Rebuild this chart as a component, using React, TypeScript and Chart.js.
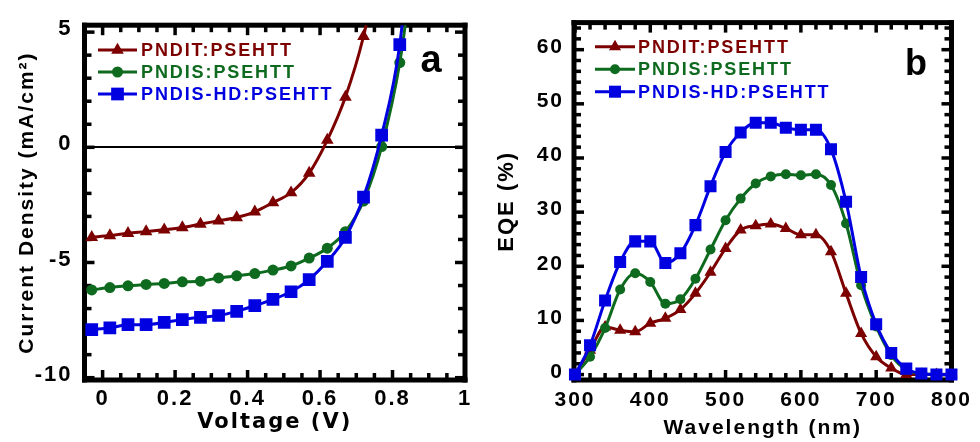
import React, { useEffect, useRef } from 'react';
import { Chart, registerables } from 'chart.js';

Chart.register(...registerables);

// ---------- shared series info ----------
const SERIES_NAMES = ['PNDIT:PSEHTT', 'PNDIS:PSEHTT', 'PNDIS-HD:PSEHTT'];
const SERIES_COLORS = ['#7d0000', '#0e6a1e', '#0000e0'];
const SERIES_MARKERS = ['triangle', 'circle', 'rect'];

// ---------- panel a : J-V ----------
const voltage = [-0.03, 0.02, 0.07, 0.12, 0.17, 0.22, 0.27, 0.32, 0.37, 0.42, 0.47, 0.52, 0.57, 0.62, 0.67, 0.72, 0.77, 0.82, 0.87];
const jPNDIT = [-3.91, -3.83, -3.73, -3.66, -3.58, -3.48, -3.33, -3.19, -3.05, -2.8, -2.4, -1.97, -1.12, 0.31, 2.18, 4.82, 8.6];
const jPNDIS = [-6.19, -6.09, -6.01, -5.95, -5.91, -5.84, -5.81, -5.67, -5.58, -5.48, -5.33, -5.15, -4.81, -4.38, -3.66, -2.33, 0.03, 3.68, 9.5];
const jPNDISHD = [-7.91, -7.84, -7.7, -7.7, -7.6, -7.48, -7.38, -7.3, -7.12, -6.87, -6.6, -6.27, -5.74, -4.95, -3.91, -2.16, 0.53, 4.46, 12.5];
const voltageTicks = [0, 0.2, 0.4, 0.6, 0.8, 1];
const voltageTickLabels = ['0', '0.2', '0.4', '0.6', '0.8', '1'];
const currentTicks = [-10, -5, 0, 5];
const currentTickLabels = ['-10', '-5', '0', '5'];

// ---------- panel b : EQE ----------
const wavelength = [300, 320, 340, 360, 380, 400, 420, 440, 460, 480, 500, 520, 540, 560, 580, 600, 620, 640, 660, 680, 700, 720, 740, 760, 780, 800];
const eqePNDIT = [0, 4.5, 8.8, 8.2, 7.9, 9.5, 10.4, 12.0, 15.0, 18.9, 23.3, 26.7, 27.5, 27.8, 27.0, 25.8, 25.8, 22.7, 15.0, 7.6, 3.3, 1.2, 0, 0, 0, 0];
const eqePNDIS = [0, 3.3, 8.6, 15.7, 18.7, 17.1, 13.1, 13.9, 17.7, 23.1, 28.5, 32.5, 35.3, 36.6, 37.0, 36.8, 37.0, 35.0, 27.9, 16.5, 8.9, 3.6, 0.9, 0.2, 0, 0];
const eqePNDISHD = [0, 5.4, 13.7, 20.8, 24.6, 24.6, 20.6, 22.4, 27.6, 34.8, 41.1, 44.7, 46.5, 46.5, 45.6, 45.2, 45.2, 41.6, 31.9, 18.0, 9.3, 4.0, 1.1, 0.2, 0, 0];
const wavelengthTicks = [300, 400, 500, 600, 700, 800];
const wavelengthTickLabels = ['300', '400', '500', '600', '700', '800'];
const eqeTicks = [0, 10, 20, 30, 40, 50, 60];
const eqeTickLabels = ['0', '10', '20', '30', '40', '50', '60'];

// ---------- plugins ----------
function makeSpacingPlugin(value: string) {
  const set = (chart: any) => { (chart.ctx as any).letterSpacing = value; };
  return {
    id: 'spacing',
    beforeUpdate: set,
    beforeLayout: set,
    beforeDraw: set,
  };
}

type FrameCfg = {
  xK0: number; xK1: number; xStep: number; xMajorEvery: number;
  yK0: number; yK1: number; yStep: number; yMajorEvery: number;
};

function drawFrame(chart: any, c: FrameCfg) {
  const ctx = chart.ctx as CanvasRenderingContext2D;
  const area = chart.chartArea;
  const left = area.left, right = area.right, top = area.top, bottom = area.bottom;
  const xs = chart.scales['x'];
  const ys = chart.scales['y'];
  ctx.save();
  ctx.fillStyle = '#000000';
  const tw = 3.5;
  for (let k = c.xK0; k <= c.xK1; k++) {
    const px = xs.getPixelForValue(k * c.xStep);
    const len = k % c.xMajorEvery === 0 ? 10 : 7;
    ctx.fillRect(px - tw / 2, bottom - len, tw, len);
    ctx.fillRect(px - tw / 2, top, tw, len);
  }
  for (let k = c.yK0; k <= c.yK1; k++) {
    const py = ys.getPixelForValue(k * c.yStep);
    const len = k % c.yMajorEvery === 0 ? 10 : 7;
    ctx.fillRect(left, py - tw / 2, len, tw);
    ctx.fillRect(right - len, py - tw / 2, len, tw);
  }
  const w = 5;
  ctx.fillRect(left - w / 2, top - w / 2, right - left + w, w);
  ctx.fillRect(left - w / 2, bottom - w / 2, right - left + w, w);
  ctx.fillRect(left - w / 2, top - w / 2, w, bottom - top + w);
  ctx.fillRect(right - w / 2, top - w / 2, w, bottom - top + w);
  ctx.restore();
}

function makeFramePlugin(c: FrameCfg) {
  return {
    id: 'boxFrame',
    beforeDatasetsDraw(chart: any) {
      drawFrame(chart, c);
    },
  };
}

function drawMarker(ctx: CanvasRenderingContext2D, style: string, x: number, y: number, r: number) {
  ctx.beginPath();
  if (style === 'triangle') {
    const h = r * Math.sin(Math.PI / 3);
    ctx.moveTo(x, y - r);
    ctx.lineTo(x + h, y + r / 2);
    ctx.lineTo(x - h, y + r / 2);
    ctx.closePath();
  } else if (style === 'circle') {
    ctx.arc(x, y, r, 0, Math.PI * 2);
  } else {
    const s = r * Math.SQRT1_2;
    ctx.rect(x - s, y - s, 2 * s, 2 * s);
  }
  ctx.fill();
}

type LegendCfg = { x0: number; x1: number; xText: number; y0: number; dy: number; fontSize: number; spacing: string };

function makeLegendPlugin(o: LegendCfg) {
  return {
    id: 'seriesLegend',
    afterDraw(chart: any) {
      const ctx = chart.ctx as CanvasRenderingContext2D;
      ctx.save();
      (ctx as any).letterSpacing = o.spacing;
      ctx.font = `bold ${o.fontSize}px "Liberation Sans", Arial, sans-serif`;
      ctx.textBaseline = 'middle';
      ctx.textAlign = 'left';
      chart.data.datasets.forEach((ds: any, i: number) => {
        const y = o.y0 + i * o.dy;
        ctx.strokeStyle = ds.borderColor;
        ctx.fillStyle = ds.borderColor;
        ctx.lineWidth = 3;
        ctx.beginPath();
        ctx.moveTo(o.x0, y);
        ctx.lineTo(o.x1, y);
        ctx.stroke();
        drawMarker(ctx, ds.pointStyle, (o.x0 + o.x1) / 2, y, ds.pointRadius);
        ctx.fillText(ds.label, o.xText, y + 1);
      });
      ctx.restore();
    },
  };
}

function makePanelLabelPlugin(text: string, x: number, y: number, size: number) {
  return {
    id: 'panelLabel',
    afterDraw(chart: any) {
      const ctx = chart.ctx as CanvasRenderingContext2D;
      ctx.save();
      (ctx as any).letterSpacing = '0px';
      ctx.font = `bold ${size}px "Liberation Sans", Arial, sans-serif`;
      ctx.fillStyle = '#000';
      ctx.textAlign = 'center';
      ctx.textBaseline = 'alphabetic';
      ctx.fillText(text, x, y);
      ctx.restore();
    },
  };
}

function makeDatasets(xs: number[], series: number[][], radii: number[], clip: any) {
  return series.map((ys, i) => ({
    label: SERIES_NAMES[i],
    data: ys.map((v, j) => ({ x: xs[j], y: v })),
    borderColor: SERIES_COLORS[i],
    backgroundColor: SERIES_COLORS[i],
    pointBackgroundColor: SERIES_COLORS[i],
    pointBorderColor: SERIES_COLORS[i],
    pointBorderWidth: 0,
    pointStyle: SERIES_MARKERS[i],
    pointRadius: radii[i],
    pointHoverRadius: radii[i],
    borderWidth: 3,
    cubicInterpolationMode: 'monotone',
    order: 2 - i,
    clip,
  }));
}

const LIB = '"Liberation Sans", Arial, sans-serif';
const DJV = '"DejaVu Sans", Verdana, sans-serif';

function configA(): any {
  return {
    type: 'line',
    data: { datasets: makeDatasets(voltage, [jPNDIT, jPNDIS, jPNDISHD], [7.3, 5.5, 9], { left: 12, right: 12, top: 0, bottom: 12 }) },
    plugins: [
      makeSpacingPlugin('2px'),
      makeFramePlugin({ xK0: -1, xK1: 20, xStep: 0.05, xMajorEvery: 4, yK0: -10, yK1: 5, yStep: 1, yMajorEvery: 5 }),
      makeLegendPlugin({ x0: 98, x1: 137, xText: 141, y0: 50, dy: 22, fontSize: 18, spacing: '1.9px' }),
      makePanelLabelPlugin('a', 431, 72, 38),
    ],
    options: {
      animation: false,
      responsive: false,
      maintainAspectRatio: false,
      events: [],
      layout: { padding: { top: 22.8, right: 25, left: 0, bottom: 0 } },
      plugins: {
        legend: { display: false },
        tooltip: { enabled: false },
      },
      scales: {
        x: {
          type: 'linear',
          min: -0.05,
          max: 1,
          afterFit: (s: any) => { s.height = 62; },
          afterBuildTicks: (s: any) => { s.ticks = voltageTicks.map((v) => ({ value: v })); },
          ticks: {
            callback: (_v: any, i: number) => voltageTickLabels[i],
            font: { family: LIB, weight: 'bold', size: 22 },
            color: '#000',
            padding: 6,
            autoSkip: false,
            maxRotation: 0,
          },
          grid: { display: false, drawTicks: false },
          border: { display: false },
          title: {
            display: true,
            text: 'Voltage (V)',
            color: '#000',
            font: { family: DJV, weight: 'bold', size: 21 },
            padding: { top: 0, bottom: 7 },
          },
        },
        y: {
          type: 'linear',
          min: -10.1,
          max: 5.3,
          afterFit: (s: any) => { s.width = 84.5; },
          afterBuildTicks: (s: any) => { s.ticks = currentTicks.map((v) => ({ value: v })); },
          ticks: {
            callback: (_v: any, i: number) => currentTickLabels[i],
            font: { family: LIB, weight: 'bold', size: 22 },
            color: '#000',
            padding: 12,
            labelOffset: -3,
            autoSkip: false,
          },
          grid: {
            drawTicks: false,
            lineWidth: 2,
            color: (c: any) => (c.tick && c.tick.value === 0 ? '#000' : 'rgba(0,0,0,0)'),
          },
          border: { display: false },
          title: {
            display: true,
            text: 'Current Density (mA/cm²)',
            color: '#000',
            font: { family: LIB, weight: 'bold', size: 21 },
            padding: { top: 15, bottom: 0 },
          },
        },
      },
    },
  };
}

function configB(): any {
  return {
    type: 'line',
    data: { datasets: makeDatasets(wavelength, [eqePNDIT, eqePNDIS, eqePNDISHD], [7, 5, 8.5], { left: 12, right: 12, top: 0, bottom: 12 }) },
    plugins: [
      makeSpacingPlugin('2px'),
      makeFramePlugin({ xK0: 15, xK1: 40, xStep: 20, xMajorEvery: 5, yK0: 0, yK1: 32, yStep: 2, yMajorEvery: 5 }),
      makeLegendPlugin({ x0: 105, x1: 145, xText: 148, y0: 46.7, dy: 22.5, fontSize: 18, spacing: '1.9px' }),
      makePanelLabelPlugin('b', 426, 75, 36),
    ],
    options: {
      animation: false,
      responsive: false,
      maintainAspectRatio: false,
      events: [],
      layout: { padding: { top: 22.5, right: 23, left: 0, bottom: 0 } },
      plugins: {
        legend: { display: false },
        tooltip: { enabled: false },
      },
      scales: {
        x: {
          type: 'linear',
          min: 298.7,
          max: 800,
          afterFit: (s: any) => { s.height = 62; },
          afterBuildTicks: (s: any) => { s.ticks = wavelengthTicks.map((v) => ({ value: v })); },
          ticks: {
            callback: (_v: any, i: number) => wavelengthTickLabels[i],
            font: { family: LIB, weight: 'bold', size: 21 },
            color: '#000',
            padding: 8,
            autoSkip: false,
            maxRotation: 0,
          },
          grid: { display: false, drawTicks: false },
          border: { display: false },
          title: {
            display: true,
            text: 'Wavelength (nm)',
            color: '#000',
            font: { family: LIB, weight: 'bold', size: 21 },
            padding: { top: 0, bottom: 1.4 },
          },
        },
        y: {
          type: 'linear',
          min: -1,
          max: 65,
          afterFit: (s: any) => { s.width = 84; },
          afterBuildTicks: (s: any) => { s.ticks = eqeTicks.map((v) => ({ value: v })); },
          ticks: {
            callback: (_v: any, i: number) => eqeTickLabels[i],
            font: { family: LIB, weight: 'bold', size: 21 },
            color: '#000',
            padding: 10,
            labelOffset: -2.5,
            autoSkip: false,
          },
          grid: { display: false, drawTicks: false },
          border: { display: false },
          title: {
            display: true,
            text: 'EQE (%)',
            color: '#000',
            font: { family: LIB, weight: 'bold', size: 22 },
            padding: { top: 3.8, bottom: 0 },
          },
        },
      },
    },
  };
}

function Panel({ make, left }: { make: () => any; left: number }) {
  const ref = useRef<HTMLCanvasElement>(null);
  useEffect(() => {
    const chart = new Chart(ref.current as HTMLCanvasElement, make());
    return () => chart.destroy();
  }, []);
  return (
    <canvas
      ref={ref}
      width={490}
      height={442}
      style={{ position: 'absolute', left, top: 0, width: 490, height: 442 }}
    />
  );
}

export default function App() {
  return (
    <div style={{ position: 'fixed', left: 0, top: 0, width: 980, height: 442, background: '#fff', overflow: 'hidden' }}>
      <Panel make={configA} left={0} />
      <Panel make={configB} left={490} />
    </div>
  );
}
